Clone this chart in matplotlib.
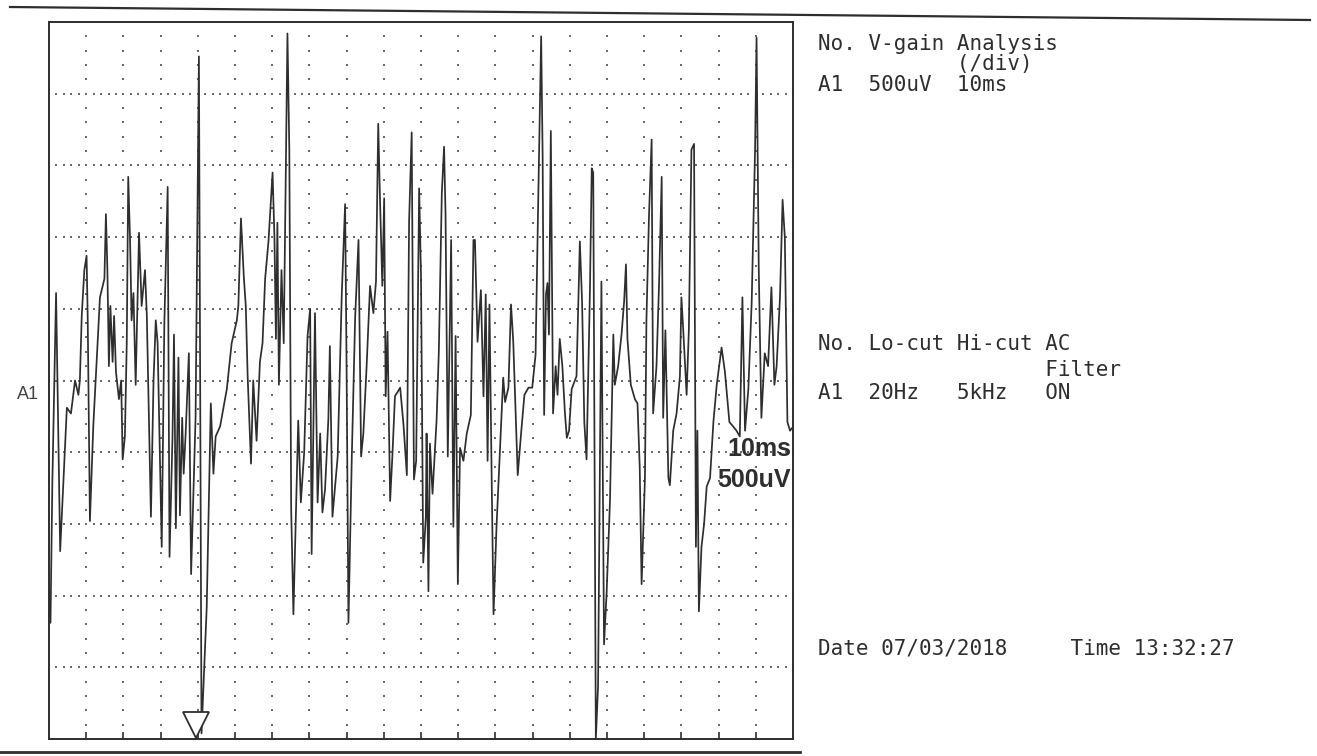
import matplotlib
matplotlib.use("Agg")
import matplotlib.pyplot as plt
from matplotlib.lines import Line2D
import numpy as np

# EMG sweep, channel A1: (time ms, amplitude uV)
sweep_a = [
    (0.0, -1480), (0.4, -1690), (0.9, -710), (1.9, 610), (3.0, -1190),
    (4.8, -190), (5.9, -230), (7.0, 0), (7.9, -100), (8.3, 0), (8.8, 450),
    (9.5, 770), (10.1, 870), (10.4, 450), (11.0, -980), (11.9, -320),
    (13.7, 580), (14.9, 710), (15.3, 1160), (15.7, 770), (16.1, 100),
    (16.5, 520), (17.1, 130), (17.5, 450), (18.0, 60), (18.8, -130),
    (19.4, 0), (19.8, -550), (20.4, -390), (20.9, 260), (21.3, 1420),
    (21.8, 970), (22.2, 420), (22.7, 610), (23.3, -30), (24.2, 1030),
    (24.9, 520), (25.8, 770), (26.3, 450), (27.4, -950), (28.1, 0),
    (28.7, 420), (29.2, 260), (30.3, -1160), (31.0, 390), (31.9, 1350),
    (32.4, -1230), (33.2, -390), (33.6, 320), (34.1, -1030), (34.8, 160),
    (35.2, -940), (35.8, -260), (36.2, -650), (36.7, -390), (37.6, 190),
    (38.2, -1350), (39.4, -260), (40.3, 2260), (41.0, -2460), (42.4, -1580),
    (43.5, -160), (44.2, -650), (44.8, -390), (46.0, -320), (47.8, -60),
    (49.1, 260), (50.5, 420), (50.9, 520), (51.6, 1130), (52.4, 710),
    (52.9, 520), (53.4, 30), (54.3, -580), (54.9, 0), (55.8, -420),
    (56.7, 130), (57.4, 260), (58.1, 710), (59.0, 970), (60.1, 1450),
    (60.6, 1000), (61.0, 290), (61.4, 1100), (61.8, -30), (62.5, 770),
    (63.1, 260), (63.4, 900), (64.1, 2420), (64.6, 1610), (65.1, -900),
    (65.7, -1630),
]
sweep_b = [
    (67.0, -280), (67.7, -850), (68.6, -500), (69.5, 310), (70.2, 500),
    (70.6, -1210), (71.5, 470), (72.2, -850), (72.9, -370), (73.5, -920),
    (74.2, -760), (75.1, -270), (75.5, 240), (76.2, -950), (77.6, -530),
    (78.7, 600), (79.6, 1230), (80.0, 80), (80.5, -1690), (81.4, -530),
    (82.3, 440), (83.2, 980), (83.9, -530), (84.5, -370), (85.4, 110),
    (86.3, 660), (87.2, 470), (87.9, 690), (88.5, 1790), (89.0, 1240),
    (89.6, 660), (90.1, 1270), (90.5, -110), (91.0, 340), (91.7, -840),
    (92.3, -530), (93.0, -110), (94.4, -50), (95.3, -310), (96.2, -660),
    (96.8, 1110), (97.5, 1730), (98.1, -690), (98.7, -560), (99.5, 1340),
    (100.0, 730), (100.6, -1270), (101.3, -950), (101.5, -370), (102.0, -1470),
    (102.4, -440), (103.1, -790), (104.2, -270), (104.8, 210), (105.6, 1310),
    (106.2, 1630), (106.6, 1150), (107.2, -530), (108.1, 980), (108.7, -1020),
    (109.3, 310), (109.9, -1420), (110.5, -470), (111.4, -560), (112.3, -370),
    (113.4, -240), (114.1, 980), (114.5, 980), (115.2, 270), (116.1, 630),
    (116.8, -110), (117.4, 600), (117.9, -560), (118.4, 530), (119.0, -690),
    (119.5, -1630), (120.3, -1020), (121.2, -500), (122.1, 20), (122.6, -150),
    (123.5, -50), (124.2, 530), (124.8, 270), (126.0, -660), (126.9, -370),
    (127.8, -100), (128.9, -50), (129.9, -50), (130.8, 180), (131.5, 1240),
    (132.3, 2400), (132.7, 1560), (133.1, -240), (133.6, 600),
]
sweep_c = [
    (134.0, 680), (134.4, 320), (134.9, 1740), (135.5, -230), (136.2, 100),
    (136.7, -100), (137.3, 290), (138.0, 100), (138.7, -230), (139.2, -400),
    (139.8, -350), (140.5, -60), (141.8, 30), (142.7, 970), (143.3, 550),
    (143.9, -290), (144.5, -550), (145.4, 610), (145.9, 1480), (146.3, 1450),
    (147.0, -2500), (147.6, -2130), (148.5, 690), (149.2, -1840), (149.9, -1480),
    (150.8, -840), (151.7, 320), (152.1, -30), (153.0, 100), (153.9, 320),
    (154.6, 550), (155.1, 810), (155.5, 290), (156.4, -30), (157.5, -130),
    (158.2, -160), (158.8, -610), (159.3, -1420), (160.2, -680), (160.6, 420),
    (161.3, 1160), (162.0, 1680), (162.4, -230), (163.3, 100), (164.0, 680),
    (164.7, 1420), (165.1, -260), (165.7, 350), (166.5, -680), (166.9, -730),
    (167.8, -350), (168.7, -230), (169.6, 30), (170.0, 580), (170.5, 350),
    (171.4, -100), (172.0, 350), (172.7, 1610), (173.4, 1650), (173.9, -1160),
    (174.3, -350), (174.7, -1610), (175.4, -1160), (176.1, -1000), (176.8, -740),
    (177.7, -680), (178.6, -290), (179.5, -30), (180.8, 230), (181.7, 60),
    (182.9, -290), (183.9, -320), (184.8, -350), (185.7, -390), (186.4, 580),
    (187.1, -350), (188.0, -60), (188.9, 550), (189.8, 1610), (190.2, 2390),
    (190.8, 770), (191.5, -260), (192.4, 190), (193.3, 100), (194.2, 650),
    (195.0, -30), (195.6, 100), (196.5, 580), (197.2, 1260), (197.8, 1000),
    (198.5, -290), (199.2, -350), (199.8, -330),
]

trigger_ms = 39.5
sweep_ms = 200          # 20 div x 10 ms
range_uv = 2500         # 5 div x 500 uV

header_1 = ["No. V-gain Analysis", " " * 11 + "(/div)", "A1  500uV  10ms"]
header_2 = ["No. Lo-cut Hi-cut AC", " " * 18 + "Filter", "A1  20Hz   5kHz   ON"]
footer = "Date 07/03/2018     Time 13:32:27"

W, H = 1317, 756
ink = "#2e2e2e"
mono = ["DejaVu Sans Mono"]

fig = plt.figure(figsize=(W / 100, H / 100), dpi=100)
fig.patch.set_facecolor("white")
ax = fig.add_axes([49 / W, 1 - 739 / H, 744 / W, 717 / H])

# dotted graticule
for a in np.arange(-2000, 2001, 500):
    t = np.arange(0, sweep_ms + 0.1, 2)
    ax.scatter(t, np.full_like(t, a, dtype=float), s=3, marker="s",
               color="#6a6a6a", linewidths=0, zorder=1)
for t0 in np.arange(10, sweep_ms, 10):
    a = np.arange(-2400, 2401, 100)
    ax.scatter(np.full_like(a, t0, dtype=float), a, s=3, marker="s",
               color="#6a6a6a", linewidths=0, zorder=1)

trace = sweep_a + sweep_b + sweep_c
t_ms = [p[0] for p in trace]
a_uv = [p[1] for p in trace]
ax.plot(t_ms, a_uv, color=ink, lw=1.25, zorder=3)

# trigger marker
ax.plot([trigger_ms], [-2400], marker="v", ms=19, mfc="white", mec=ink,
        mew=1.3, clip_on=False, zorder=4)

ax.set_xlim(0, sweep_ms)
ax.set_ylim(-range_uv, range_uv)
ax.set_xticks(np.arange(10, sweep_ms, 10))
ax.set_yticks([])
ax.tick_params(axis="x", direction="in", length=5, width=1.2, color=ink,
               labelbottom=False)
for sp in ax.spines.values():
    sp.set_color(ink)
    sp.set_linewidth(1.4)

# scale labels
fig.text(791 / W, 1 - 449 / H, "10ms", ha="right", va="center", fontsize=18,
         fontweight="bold", family="Liberation Sans", color=ink, zorder=5)
fig.text(791 / W, 1 - 480 / H, "500uV", ha="right", va="center", fontsize=18,
         fontweight="bold", family="Liberation Sans", color=ink, zorder=5)

fig.text(17 / W, 1 - 395 / H, "A1", ha="left", va="center", fontsize=13,
         family="Liberation Sans", color="#444444")

for txt, y in zip(header_1, [44, 64, 85]):
    fig.text(818 / W, 1 - y / H, txt, ha="left", va="center", fontsize=15,
             family=mono, color=ink)
for txt, y in zip(header_2, [344, 370, 393]):
    fig.text(818 / W, 1 - y / H, txt, ha="left", va="center", fontsize=15,
             family=mono, color=ink)
fig.text(818 / W, 1 - 648 / H, footer, ha="left", va="center", fontsize=15,
         family=mono, color=ink)

# paper rulings
fig.add_artist(Line2D([10 / W, 1310 / W], [1 - 7 / H, 1 - 20 / H],
                      transform=fig.transFigure, color=ink, lw=1.6))
fig.add_artist(Line2D([0, 800 / W], [1 - 752 / H, 1 - 752 / H],
                      transform=fig.transFigure, color=ink, lw=2.0))

fig.savefig("out.png", dpi=100)
